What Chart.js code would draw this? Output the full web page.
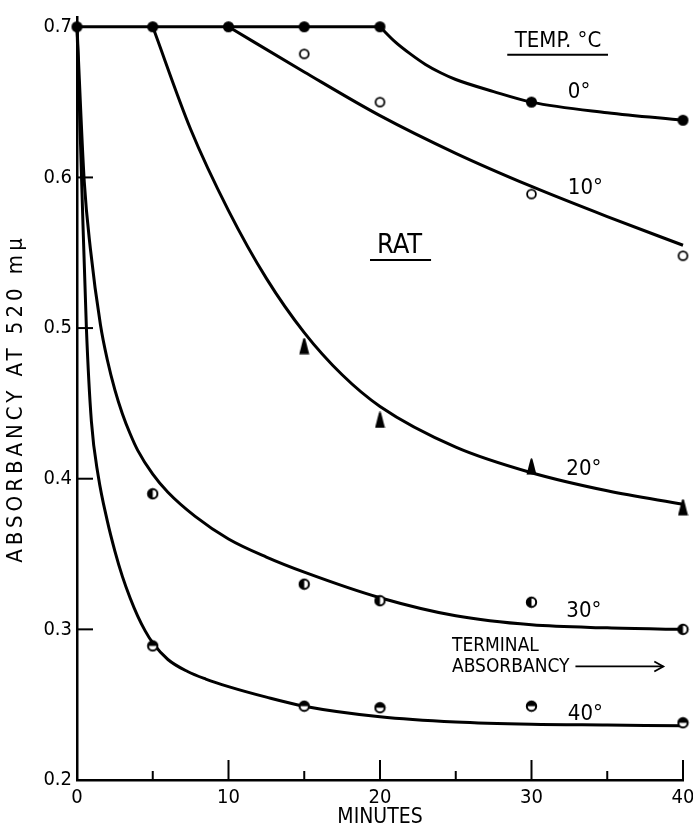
<!DOCTYPE html>
<html>
<head>
<meta charset="utf-8">
<script src="https://cdn.jsdelivr.net/npm/chart.js@4.4.1/dist/chart.umd.min.js"></script>
<style>
html,body{margin:0;padding:0;background:#fff;}
</style>
</head>
<body>
<canvas id="chart" width="693" height="832"></canvas>
<script>
const FONT="'DejaVu Sans Condensed','Liberation Sans Narrow','DejaVu Sans',sans-serif";

/* ---------- measured points (minutes / absorbancy) ---------- */
const t0Min=[0,5,10,15,20,30,40];
const t0Abs=[0.700,0.700,0.700,0.700,0.700,0.650,0.638];
const t10Min=[15,20,30,40];
const t10Abs=[0.682,0.650,0.589,0.548];
const t20Min=[15,20,30,40];
const t20Abs=[0.488,0.439,0.408,0.381];
const t30Min=[5,15,20,30,40];
const t30Abs=[0.390,0.330,0.319,0.318,0.300];
const t40Min=[5,15,20,30,40];
const t40Abs=[0.289,0.249,0.248,0.249,0.238];

/* ---------- drawn curves ---------- */
const flatMin=[0,20];
const flatAbs=[0.700,0.700];
const fit0Min=[20,21,22,23,24,25,27.5,30,35,40];
const fit0Abs=[0.700,0.690,0.682,0.675,0.6695,0.665,0.657,0.650,0.643,0.638];
const fit10Min=[10,15,20,25,30,35,40];
const fit10Abs=[0.700,0.670,0.641,0.616,0.594,0.574,0.555];
const fit20Min=[5,7.5,10,12.5,15,17.5,20,25,30,35,40];
const fit20Abs=[0.700,0.632,0.578,0.533,0.497,0.469,0.448,0.421,0.404,0.392,0.383];
const fit30Min=[0,0.48,0.88,1.55,2,2.5,3,3.5,4,5,6,7.8,10,12.5,15,20,25,30,35,40];
const fit30Abs=[0.700,0.597,0.553,0.502,0.479,0.459,0.443,0.430,0.419,0.403,0.391,0.375,0.360,0.348,0.338,0.321,0.309,0.303,0.301,0.300];
const fit40Min=[0,0.33,0.62,0.95,1.4,2,2.5,3,3.5,4,4.5,5,6,7.3,8.5,10,12.5,15,20,25,30,35,40];
const fit40Abs=[0.700,0.590,0.500,0.438,0.402,0.372,0.352,0.335,0.321,0.309,0.299,0.291,0.280,0.272,0.267,0.262,0.255,0.249,0.242,0.2385,0.237,0.2365,0.236];

/* ---------- axes ---------- */
const xLabels=[0,10,20,30,40];
const yLabels=[0.2,0.3,0.4,0.5,0.6,0.7];
const yInnerTicks=[0.3,0.4,0.5,0.6];
const xMajorTicks=[10,20,30,40];
const xMinorTicks=[5,15,25,35];

const pairs=(xs,ys)=>xs.map((x,i)=>({x:x,y:ys[i]}));

/* ---------- marker glyphs ---------- */
function marker(w,h,paint){
 let c=document.createElement("canvas");
 c.width=w;c.height=h;
 let g=c.getContext("2d");
 g.fillStyle="#000";g.strokeStyle="#000";
 paint(g);
 return c;
}
const dotFilled=marker(13,13,g=>{g.beginPath();g.arc(6.5,6.5,5.5,0,Math.PI*2);g.fill();});
const dotOpen=marker(13,13,g=>{g.lineWidth=1.8;g.fillStyle="#fff";g.beginPath();g.arc(6.5,6.5,4.4,0,Math.PI*2);g.fill();g.stroke();});
const dotLeft=marker(13,13,g=>{
 g.lineWidth=2;g.fillStyle="#fff";g.beginPath();g.arc(6.5,6.5,4.7,0,Math.PI*2);g.fill();g.stroke();
 g.fillStyle="#000";g.beginPath();g.arc(6.5,6.5,4.7,Math.PI/2,Math.PI*1.5);g.fill();
});
const dotTop=marker(13,13,g=>{
 g.lineWidth=2;g.fillStyle="#fff";g.beginPath();g.arc(6.5,6.5,4.7,0,Math.PI*2);g.fill();g.stroke();
 g.fillStyle="#000";g.beginPath();g.arc(6.5,6.5,4.7,Math.PI,Math.PI*2);g.fill();
});
const triFilled=marker(11,17,g=>{
 g.beginPath();g.moveTo(4.5,1);g.quadraticCurveTo(5.5,-0.5,6.5,1);g.lineTo(10.5,16.5);g.lineTo(0.5,16.5);g.closePath();g.fill();
});

function curve(xs,ys){
 return {data:pairs(xs,ys),borderColor:"#000",borderWidth:3,pointRadius:0,
  cubicInterpolationMode:"monotone",fill:false,order:2,clip:false};
}
function dots(xs,ys,glyph){
 return {data:pairs(xs,ys),showLine:false,pointStyle:glyph,pointRadius:6,order:1,clip:false};
}

/* ---------- extra marks: inner ticks, y title and lettering ---------- */
const paper={
 id:"paper",
 afterDraw(chart){
  const g=chart.ctx, sx=chart.scales.x, sy=chart.scales.y, area=chart.chartArea;
  const X=v=>sx.getPixelForValue(v), Y=v=>sy.getPixelForValue(v);
  g.save();
  g.strokeStyle="#000";g.fillStyle="#000";g.lineWidth=2;
  const x0=X(0), y0=Y(0.2);
  yInnerTicks.forEach(v=>{g.beginPath();g.moveTo(x0,Y(v));g.lineTo(x0+16,Y(v));g.stroke();});
  xMajorTicks.forEach(v=>{g.beginPath();g.moveTo(X(v),y0);g.lineTo(X(v),y0-20);g.stroke();});
  xMinorTicks.forEach(v=>{g.beginPath();g.moveTo(X(v),y0);g.lineTo(X(v),y0-9);g.stroke();});

  // y title, lettered wide like the original
  g.save();
  g.translate(16,(area.top+area.bottom)/2);
  g.rotate(-Math.PI/2);
  g.font="22px "+FONT;g.textAlign="center";g.textBaseline="middle";
  g.letterSpacing="4px";
  g.fillText("ABSORBANCY AT 520 mμ",0,0);
  g.restore();

  const txt=(s,x,y,size,align)=>{
   g.font=size+"px "+FONT;g.textAlign=align||"left";g.textBaseline="middle";
   g.fillText(s,X(x),Y(y));
  };
  const rule=(xa,xb,y)=>{g.beginPath();g.moveTo(X(xa),Y(y));g.lineTo(X(xb),Y(y));g.stroke();};

  txt("TEMP. °C",31.75,0.6904,22,"center");
  rule(28.4,35.05,0.6815);
  txt("0°",32.4,0.6563,22);
  txt("10°",32.4,0.593,22);
  txt("RAT",19.8,0.5545,27);
  rule(19.34,23.37,0.5452);
  txt("20°",32.3,0.4063,22);
  txt("30°",32.3,0.3118,22);
  txt("40°",32.4,0.2437,22);
  txt("TERMINAL",24.75,0.2886,19);
  txt("ABSORBANCY",24.75,0.2747,19);
  // arrow
  g.lineWidth=1.8;
  rule(32.9,38.7,0.2754);
  g.beginPath();
  g.moveTo(X(38.7)-9,Y(0.2754)-5);g.lineTo(X(38.7),Y(0.2754));g.lineTo(X(38.7)-9,Y(0.2754)+5);
  g.stroke();
  g.restore();
 }
};

new Chart(document.getElementById("chart"),{
 type:"line",
 data:{datasets:[
  dots(t0Min,t0Abs,dotFilled),
  dots(t10Min,t10Abs,dotOpen),
  dots(t20Min,t20Abs,triFilled),
  dots(t30Min,t30Abs,dotLeft),
  dots(t40Min,t40Abs,dotTop),
  curve(flatMin,flatAbs),
  curve(fit0Min,fit0Abs),
  curve(fit10Min,fit10Abs),
  curve(fit20Min,fit20Abs),
  curve(fit30Min,fit30Abs),
  curve(fit40Min,fit40Abs)
 ]},
 options:{
  responsive:false,animation:false,
  layout:{padding:{top:14,right:10,left:0,bottom:0}},
  plugins:{legend:{display:false},tooltip:{enabled:false}},
  scales:{
   x:{type:"linear",min:0,max:40,
    afterBuildTicks:s=>{s.ticks=xLabels.map(v=>({value:v}));},
    afterFit:s=>{s.height=52;s.paddingLeft=0;s.paddingRight=0;},
    grid:{display:false,drawTicks:false},
    border:{display:true,color:"#000",width:2.5},
    ticks:{color:"#000",padding:6,font:{family:FONT,size:20},maxRotation:0,callback:v=>v},
    title:{display:true,text:"MINUTES",color:"#000",font:{family:FONT,size:21},padding:{top:0,bottom:2}}
   },
   y:{type:"linear",min:0.2,max:0.7065,
    afterBuildTicks:s=>{s.ticks=yLabels.map(v=>({value:v}));},
    afterFit:s=>{s.width=77;},
    grid:{display:false,drawTicks:false},
    border:{display:true,color:"#000",width:2.5},
    ticks:{color:"#000",padding:5,font:{family:FONT,size:20},callback:v=>v.toFixed(1)},
    title:{display:false}
   }
  }
 },
 plugins:[paper]
});
</script>
</body>
</html>
